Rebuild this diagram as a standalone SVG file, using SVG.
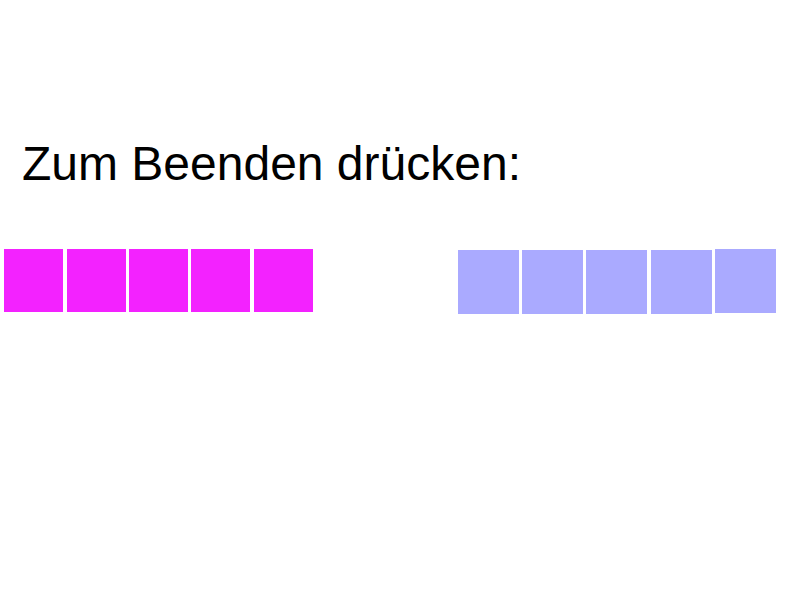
<svg xmlns="http://www.w3.org/2000/svg" width="800" height="600" viewBox="0 0 800 600">
<style>
.t{font-family:"Liberation Sans",Arial,sans-serif;font-size:48px;fill:#000}
.m{fill:#F322FF}
.b{fill:#AAAAFF}
</style>
<rect width="800" height="600" fill="#fff"/>
<g id="title"><text class="t" x="22" y="180">Zum Beenden drücken:</text></g>
<g id="magenta">
<rect class="m" x="4" y="249" width="59" height="63"/>
<rect class="m" x="67" y="249" width="59" height="63"/>
<rect class="m" x="129" y="249" width="59" height="63"/>
<rect class="m" x="191" y="249" width="59" height="63"/>
<rect class="m" x="254" y="249" width="59" height="63"/>
</g>
<g id="blue">
<rect class="b" x="458" y="250" width="61" height="64"/>
<rect class="b" x="522" y="250" width="61" height="64"/>
<rect class="b" x="586" y="250" width="61" height="64"/>
<rect class="b" x="651" y="250" width="61" height="64"/>
<rect class="b" x="715" y="249" width="61" height="64"/>
</g>
</svg>
